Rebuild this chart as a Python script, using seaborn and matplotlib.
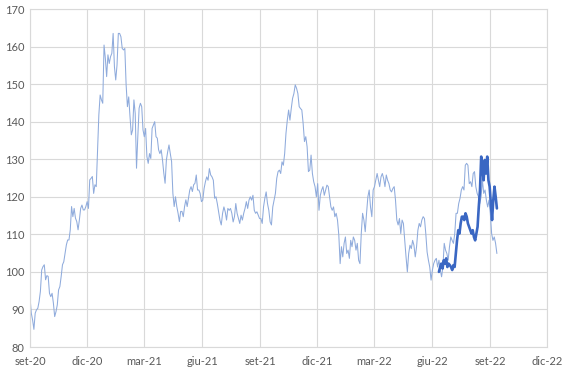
import numpy as np
import pandas as pd
import matplotlib
matplotlib.use("Agg")
import matplotlib.pyplot as plt
import matplotlib.dates as mdates
import seaborn as sns

# ---- data ----
seg1_values = [93.2, 89, 87.2, 84.7, 89, 89.9, 90.3, 92.1, 94.8, 100.5, 101.4, 101.9, 97.9, 99, 98.8,
               94.3, 93.4, 94.3, 91.7, 88.1, 89.4, 91.2, 95.2, 96.1, 98.8, 101.9, 102.7, 105, 107.2,
               108.5, 108.5, 111.2, 117.4, 114.7, 116.9, 114.3, 113.4, 111.2, 113.8, 116.9, 117.8,
               116.5, 116.5, 117.4, 118.7, 116.9, 124.5, 124.9, 125.4, 120.9, 123.2, 122.7, 132.5,
               141.8, 147.1, 145.8, 144.9, 160.4, 156.9, 152, 157.8, 155.5, 157.3, 158.2, 163.5,
               154.6, 151.1, 155.1, 163.5, 163.5, 162.6, 159.5, 159.1, 159.5, 149.8, 144, 146.6,
               141.3, 136.5, 137.8, 145.8, 142.2, 127.6, 136, 143.6, 144.9, 144, 137.8, 136, 138.2,
               130.7, 128.9, 131.5, 130.2, 138.2, 139.1, 140, 136, 135.6, 132.5, 131.5, 132.5, 129.8,
               126.3, 123.6, 129.8, 132, 133.8, 131.5, 129.4, 120.9, 117.4, 120, 117.4, 115.6, 113.4,
               116.1, 116.1, 114.7, 117.4, 119.2, 117.4, 119.6, 121.8, 122.7, 121.4, 123.2, 123.6,
               125.8, 121.8, 121.8]
seg2_values = [120.9, 118.7, 119.1, 122.2, 124, 125.3, 124.4, 127.5, 125.8, 125.3, 124.4, 119.6, 120,
               118.2, 116, 113.8, 112.5, 115.6, 117.3, 116, 113.8, 116.9, 116.4, 116.9, 115.6, 113.3,
               114.7, 118.2, 115.6, 114.2, 112.9, 115.1, 113.8, 115.6, 116.9, 118.7, 116.9, 119.1,
               120, 119.1, 120.4, 116.4, 115.6, 116, 115.1, 114.2, 114.2, 112.9, 117.3, 119.6, 121.3,
               118.2, 116.4, 113.3, 112.5, 117.3, 119.1, 120.9, 124.9, 126.7, 127.1, 126.2, 129.3,
               128.4, 131.5, 136.9, 140.4, 143.1, 140.4, 143.5, 146.2, 147.5, 149.8, 148.9, 147.5,
               144, 143.5, 143.1, 139.5, 134.7, 136, 133.3, 126.7, 127.1, 131.1, 126.2, 124, 122.7,
               120, 123.5, 116.4, 120.4, 121.8, 122.7, 120.4, 121.8, 123.1, 122.7, 120, 117.3, 116.4,
               117.3, 114.7, 115.6, 113.8, 109.8, 102.2, 106.7, 104, 107.6, 109.3, 104.9, 105.8,
               103.6, 108.4, 106.7, 109.3, 108.4, 105.8, 107.6, 103.1, 102.2, 110.2, 115.6, 113.8,
               110.7, 115.6, 120, 121.8, 117.3, 114.7, 121.8, 122.7, 124.4, 126.2, 124.4]
seg3_values = [122.7, 125.3, 126.2, 124.9, 122.7, 125.8, 124.4, 123.5, 121.8, 121.3, 122.2, 122.7,
               119.1, 113.8, 112.5, 114.2, 110.2, 113.8, 112.9, 108.4, 104, 100, 104.9, 107.1, 106.2,
               108.4, 107.1, 104, 106.7, 111.1, 112.9, 112, 113.8, 114.7, 114.2, 110.2, 105.3, 103.1,
               101.3, 97.8, 100.5, 102.2, 103.1, 103.6, 101.3, 103.1, 100.5, 98.7, 101.3, 107.6,
               105.8, 104.9, 103.1, 106.7, 109.3, 108.4, 107.6, 110.2, 115.6, 115.6, 118.2, 119.6,
               121.8, 122.7, 121.8, 128.4, 128.9, 128.4, 123.5, 124, 122.7, 126.2, 126.7, 122.7,
               120.9, 120, 118.2, 120, 124.4, 120.9, 121.8, 119.1, 117.3, 119.1, 115.6, 110.2, 108.4,
               109.3, 107.6, 104.9]
thick_values = [100, 101.3, 102.2, 100.9, 103.1, 102.2, 103.6, 101.3, 102.2, 101.8, 101.3, 100.5,
                101.8, 101.3, 104.9, 108.4, 111.1, 110.2, 112.9, 114.7, 114.7, 113.8, 115.6, 114.7,
                112.9, 112, 111.1, 110.2, 111.1, 109.3, 108.4, 110.2, 112, 117.3, 121.8, 130.7, 128,
                124.4, 129.8, 126.2, 130.7, 124.4, 122.7, 118.2, 113.8, 119.1, 122.7, 120, 116.9]

seg_bounds = [("2020-09-01", "2021-05-27"), ("2021-05-29", "2022-03-08"), ("2022-03-10", "2022-09-12")]
thick_bounds = ("2022-06-12", "2022-09-12")

tick_dates = ["2020-09-01", "2020-12-01", "2021-03-01", "2021-06-01", "2021-09-01", "2021-12-01",
              "2022-03-01", "2022-06-01", "2022-09-01", "2022-12-01"]
tick_labels = ["set-20", "dic-20", "mar-21", "giu-21", "set-21", "dic-21", "mar-22", "giu-22",
               "set-22", "dic-22"]
y_ticks = [80, 90, 100, 110, 120, 130, 140, 150, 160, 170]

# ---- build frames ----
parts = []
for vals, (s, e) in zip([seg1_values, seg2_values, seg3_values], seg_bounds):
    parts.append(pd.DataFrame({"date": pd.date_range(s, e, periods=len(vals)), "value": vals}))
thin = pd.concat(parts, ignore_index=True)
thick = pd.DataFrame({"date": pd.date_range(thick_bounds[0], thick_bounds[1], periods=len(thick_values)),
                      "value": thick_values})

sns.set_style("white")
plt.rcParams["font.family"] = ["Lato", "DejaVu Sans"]

fig = plt.figure(figsize=(5.65, 3.72), dpi=100)
ax = fig.add_axes([30 / 565, 1 - 347 / 372, (547.3 - 30) / 565, (347 - 9) / 372])

grid_c = "#D9D9D9"
sns.lineplot(data=thin, x="date", y="value", ax=ax, color="#8FABDC", linewidth=0.75)
sns.lineplot(data=thick, x="date", y="value", ax=ax, color="#3A67C3", linewidth=1.9)

ax.set_xlim(pd.Timestamp(tick_dates[0]), pd.Timestamp(tick_dates[-1]))
ax.set_ylim(y_ticks[0], y_ticks[-1])
ax.set_xticks([pd.Timestamp(d) for d in tick_dates])
ax.set_xticklabels(tick_labels)
ax.set_yticks(y_ticks)
ax.set_yticklabels([str(v) for v in y_ticks])
ax.set_xlabel("")
ax.set_ylabel("")
ax.grid(True, color=grid_c, linewidth=0.8)
ax.set_axisbelow(True)
for sp in ax.spines.values():
    sp.set_color(grid_c)
    sp.set_linewidth(0.8)
ax.tick_params(axis="x", length=3, color=grid_c, labelsize=8, labelcolor="#595959", pad=3.5)
ax.tick_params(axis="y", length=0, labelsize=8, labelcolor="#595959", pad=4)

fig.savefig("out.png", dpi=100)
